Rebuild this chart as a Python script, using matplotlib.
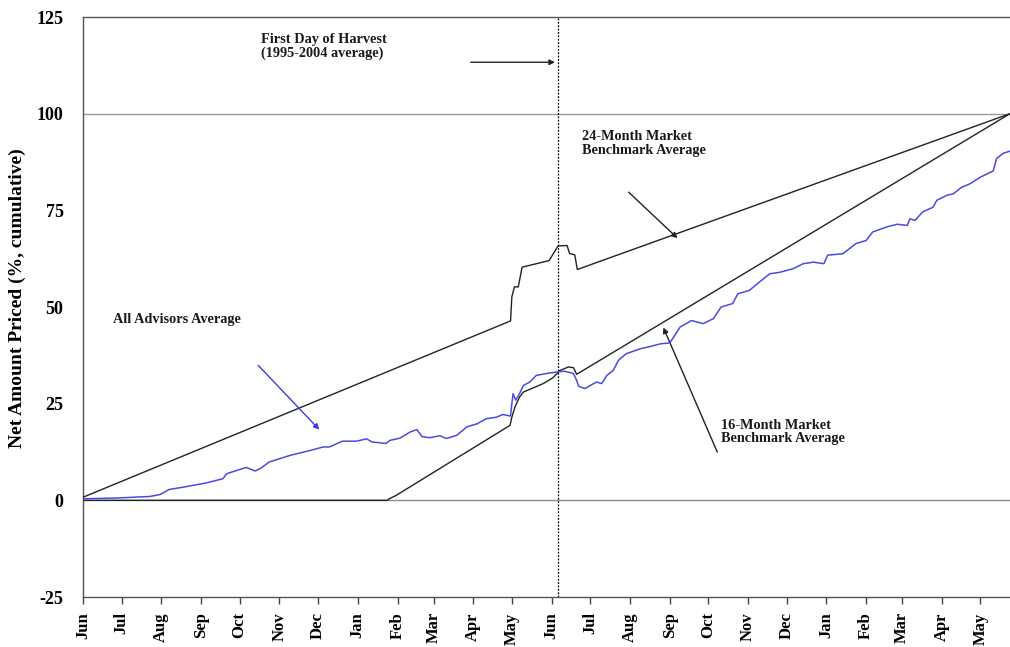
import matplotlib
matplotlib.use("Agg")
import matplotlib.pyplot as plt
import numpy as np

# ---- data (x = days since June 1 of year 1) ----
month_labels = ["Jun", "Jul", "Aug", "Sep", "Oct", "Nov", "Dec", "Jan", "Feb", "Mar", "Apr", "May"] * 2
month_lengths = [30, 31, 31, 30, 31, 30, 31, 31, 28, 31, 30, 31] * 2

bench24_days = [0, 333, 334, 336, 339, 342, 363, 368, 370, 377, 379, 383, 385, 722]
bench24_vals = [0.8, 46.4, 52.6, 55.2, 55.2, 60.3, 62.0, 64.7, 65.8, 65.9, 63.8, 63.5, 59.7, 100.0]

bench16_days = [0, 237, 238, 244, 332.6, 334, 336.4, 340, 343, 358.5, 366, 371.5, 376.7, 378, 382, 384.5, 722]
bench16_vals = [0, 0, 0.3, 1.3, 19.4, 21.5, 24.1, 26.7, 28.0, 30.2, 31.7, 33.6, 34.3, 34.5, 34.3, 32.6, 100.0]

advisors_days = [0, 26, 52, 60, 67, 78, 96, 109, 112, 127, 134, 138, 145, 161, 177, 187, 192,
                 202, 213, 221, 225, 236, 239, 247, 255, 260, 264, 270, 278, 283, 291, 299, 307,
                 314, 322, 327, 333, 334, 335, 337, 340, 343, 348, 353, 361, 369, 375, 382, 384.5,
                 386, 391, 395, 400, 404, 408, 413, 417, 423, 434, 442, 450, 457, 461, 465, 474,
                 483, 491, 497, 506, 510, 519, 527, 535, 543, 553, 561, 569, 577, 580, 592, 597,
                 602, 610, 615, 626, 634, 642, 644, 648, 654, 662, 665, 673, 678, 684, 691, 699,
                 709, 711.5, 717, 722]
advisors_vals = [0.4, 0.6, 1.0, 1.5, 2.8, 3.4, 4.5, 5.6, 6.9, 8.5, 7.6, 8.2, 9.9, 11.6, 12.9, 13.8, 13.8,
                 15.3, 15.3, 15.9, 15.1, 14.7, 15.5, 16.1, 17.7, 18.3, 16.5, 16.2, 16.7, 16.0, 16.8, 19.0, 19.8,
                 21.1, 21.5, 22.2, 21.8, 25.0, 27.6, 25.9, 27.6, 29.7, 30.6, 32.3, 32.8, 33.2, 33.4, 32.8, 31.0,
                 29.5, 28.9, 29.7, 30.6, 30.2, 32.3, 33.6, 36.2, 37.9, 39.2, 39.8, 40.5, 40.7, 42.7, 44.8, 46.5,
                 45.7, 47.0, 50.0, 50.9, 53.4, 54.3, 56.5, 58.6, 59.0, 59.9, 61.2, 61.6, 61.2, 63.4, 63.8, 65.1,
                 66.4, 67.2, 69.4, 70.7, 71.4, 71.1, 72.8, 72.4, 74.6, 75.8, 77.6, 78.9, 79.3, 80.9, 81.9, 83.6,
                 85.2, 88.4, 89.8, 90.3]

harvest_day = 370
y_ticks = [-25, 0, 25, 50, 75, 100, 125]

# ---- figure ----
plt.rcParams['font.family'] = ['Liberation Serif', 'DejaVu Serif']
fig = plt.figure(figsize=(10.10, 6.47), dpi=100)
ax = fig.add_axes([83 / 1010, 50 / 647, 927 / 1010, 580 / 647])

ax.axhline(0, color='#8c8c8c', lw=1.0, zorder=1)
ax.axhline(100, color='#9a9a9a', lw=1.0, zorder=1)
ax.axvline(harvest_day, color='black', lw=0.9, ls=(0, (1.5, 1.2)), zorder=2)

ax.plot(bench24_days, bench24_vals, color='#222222', lw=1.0, zorder=3)
ax.plot(bench16_days, bench16_vals, color='#222222', lw=1.0, zorder=3)
ax.plot(advisors_days, advisors_vals, color='#4a4ae0', lw=1.1, zorder=4)

ax.set_xlim(0, 722)
ax.set_ylim(-25, 125)
ax.set_yticks(y_ticks)
ax.set_yticklabels([str(v) for v in y_ticks], fontsize=13, fontweight='bold')
ax.tick_params(axis='y', length=0, pad=14)

tick_pos = np.concatenate([[0], np.cumsum(month_lengths)[:-1]])
ax.set_xticks(tick_pos)
ax.set_xticklabels(month_labels, rotation=90, fontsize=12, fontweight='bold')
ax.tick_params(axis='x', length=5, width=1, color='#444444', pad=6)

for s in ['left', 'bottom', 'top']:
    ax.spines[s].set_color('#555555')
    ax.spines[s].set_linewidth(1.0)
ax.spines['right'].set_visible(False)

ax.set_ylabel('Net Amount Priced (%, cumulative)', fontsize=14, fontweight='bold')
ax.yaxis.set_label_coords(-0.061, 0.515)

tfont = dict(fontsize=10.3, fontweight='bold', color='#1a1a1a', va='top', ha='left', linespacing=1.05)
ax.text(139, 120.8, 'First Day of Harvest\n(1995-2004 average)', **tfont)
ax.text(389, 95.7, '24-Month Market\nBenchmark Average', **tfont)
ax.text(497, 21.1, '16-Month Market\nBenchmark Average', **tfont)
ax.text(23.6, 48.4, 'All Advisors Average', **tfont)

arr = dict(arrowstyle='-|>', color='#222222', lw=1.0, mutation_scale=8, shrinkA=0, shrinkB=0)
ax.annotate('', xy=(367.6, 113.3), xytext=(302, 113.3), arrowprops=arr)
ax.annotate('', xy=(463, 67.8), xytext=(425, 79.7), arrowprops=arr)
ax.annotate('', xy=(452, 44.7), xytext=(494, 12.5), arrowprops=arr)
arr_b = dict(arr, color='#3b3be0')
ax.annotate('', xy=(184, 18.3), xytext=(136.5, 34.9), arrowprops=arr_b)

fig.savefig('out.png', dpi=100)
